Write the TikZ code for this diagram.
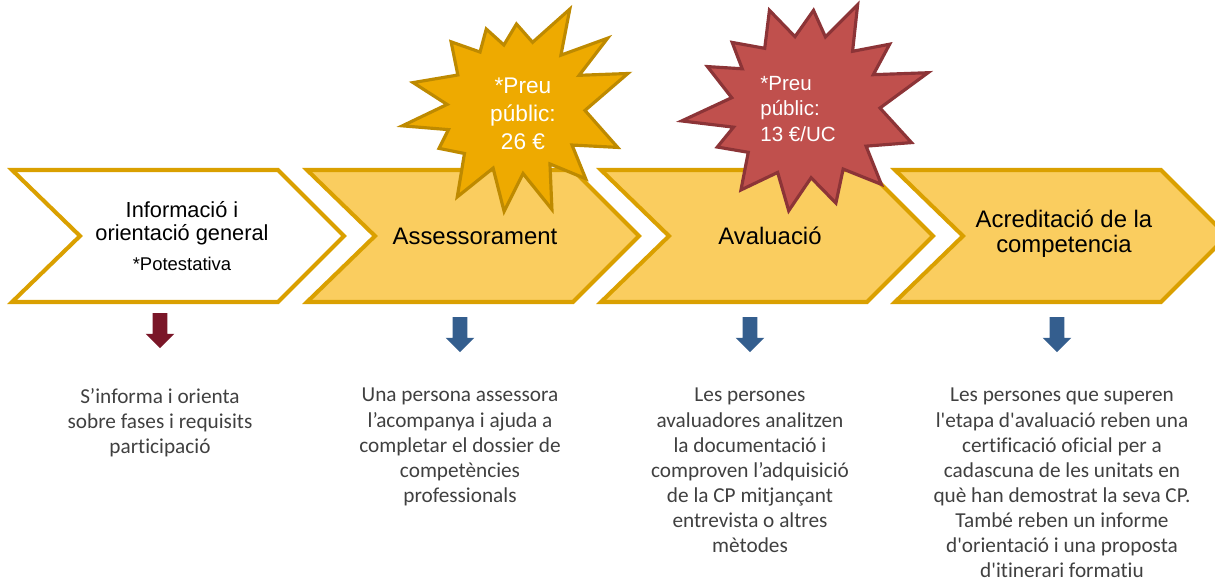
\documentclass[tikz,border=0pt]{standalone}
\usepackage{fontspec}
\setmainfont{Liberation Sans}
\newfontfamily\descfont[Ligatures=NoCommon]{Carlito}
\usetikzlibrary{shapes.arrows}

\definecolor{gold}{RGB}{218,160,0}
\definecolor{paleyellow}{RGB}{250,205,95}
\definecolor{starorange}{RGB}{238,170,0}
\definecolor{staredge}{RGB}{190,138,0}
\definecolor{starred}{RGB}{192,80,77}
\definecolor{starrededge}{RGB}{140,52,55}
\definecolor{arrowred}{RGB}{122,22,40}
\definecolor{arrowblue}{RGB}{52,94,142}
\definecolor{desctext}{RGB}{64,64,64}

\begin{document}
\begin{tikzpicture}[x=0.02cm, y=-0.02cm,
chevron/.style={draw=gold, line width=2.3pt, line join=miter, fill=paleyellow},
steplabel/.style={align=center, inner sep=0pt, font=\fontsize{13.6}{14.4}\selectfont},
burst/.style={line width=1.8pt, line join=miter},
price/.style={text=white, inner sep=0pt},
downarrow/.style={single arrow, shape border rotate=270, minimum height=0.7cm, inner sep=0.14cm, single arrow head extend=0.14cm},
desc/.style={align=center, anchor=north, inner sep=0pt, text=desctext, font=\descfont\fontsize{12.1}{14.3}\selectfont},]
\useasboundingbox (0,0) rectangle (1215,584);
\foreach \x/\f in {12/white, 307/paleyellow, 601/paleyellow, 895/paleyellow}
	\draw[chevron, fill=\f] (\x,170) -- ++(266,0) -- ++(66,66) -- ++(-66,66) -- ++(-266,0) -- ++(68,-66) -- cycle;

\node[steplabel, font=\fontsize{12.4}{13.2}\selectfont] (info) at (182,236) {Informació i\\orientació general\\[4pt]{\fontsize{10.5}{12}\selectfont *Potestativa}};
\node[steplabel] (assess) at (475,236) {Assessorament};
\node[steplabel] (aval) at (770,236) {Avaluació};
\node[steplabel] (acred) at (1064,234) {Acreditació de la\\competencia};

\node[downarrow, fill=arrowred] (down1) at (160,327) {};
\node[downarrow, fill=arrowblue] (down2) at (460,331) {};
\node[downarrow, fill=arrowblue] (down3) at (750,331) {};
\node[downarrow, fill=arrowblue] (down4) at (1057,331) {};

\draw[burst, fill=starorange, draw=staredge, shift={(515,108)}] (343:118)
	\foreach \a/\r in {2/70, 21/110, 33/68, 45/100, 58/66, 70/108, 83/66, 96/104, 110/64, 123/106, 138/68, 152/86, 162/70, 171/114, 183/68, 194/105, 210/66, 226/92, 238/66, 250/84, 260/64, 271/84, 285/68, 299/113, 311/70, 323/116, 333/72} { -- (\a:\r)} -- cycle;
\draw[burst, fill=starred, draw=starrededge, shift={(805,108)}] (344:128)
	\foreach \a/\r in {0/75, 18/112, 32/72, 45/108, 58/72, 72/100, 85/70, 99/104, 113/70, 128/104, 142/72, 156/96, 165/74, 174/124, 188/74, 203/106, 212/74, 222/98, 236/72, 250/104, 262/72, 275/98, 286/74, 297/116, 310/74, 323/106, 334/76} { -- (\a:\r)} -- cycle;

\node[price, align=center, font=\fontsize{12.9}{15.9}\selectfont] (price26) at (523,114) {*Preu\\públic:\\26 €};
\node[price, align=left, anchor=west, font=\fontsize{11.7}{14.5}\selectfont] (price13) at (760,109) {*Preu\\públic:\\13 €/UC};

\node[desc] (info desc) at (160,388) {S’informa i orienta\\sobre fases i requisits\\participació};
\node[desc] (assess desc) at (460,388) {Una persona assessora\\l’acompanya i ajuda a\\completar el dossier de\\competències\\professionals};
\node[desc] (aval desc) at (750,388) {Les persones\\avaluadores analitzen\\la documentació i\\comproven l’adquisició\\de la CP mitjançant\\entrevista o altres\\mètodes};
\node[desc] (acred desc) at (1062,388) {Les persones que superen\\l'etapa d'avaluació reben una\\certificació oficial per a\\cadascuna de les unitats en\\què han demostrat la seva CP.\\També reben un informe\\d'orientació i una proposta\\d'itinerari formatiu};
\end{tikzpicture}
\end{document}
